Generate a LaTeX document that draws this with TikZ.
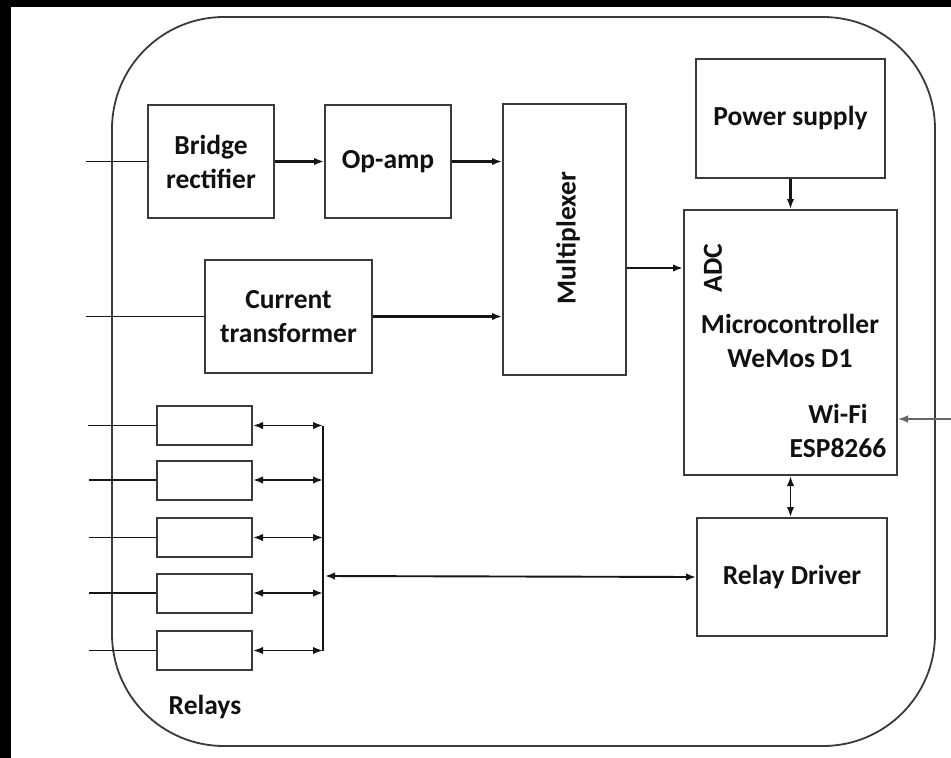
\documentclass[tikz,border=0pt]{standalone}
\usepackage{fontspec}
\setmainfont{Carlito}
\usetikzlibrary{arrows.meta}
\definecolor{boxgray}{HTML}{3A3A3A}
\definecolor{linecol}{HTML}{151515}
\definecolor{txt}{HTML}{111111}
\definecolor{wifigray}{HTML}{666666}
\begin{document}
\begin{tikzpicture}[x=1pt,y=-1pt,
  bigfont/.style={font=\fontsize{27.5}{34}\selectfont\bfseries},
  blk/.style={draw=boxgray, line width=2pt, inner sep=0pt, bigfont, align=center, text=txt},
  relaybox/.style={draw=boxgray, line width=2pt, inner sep=0pt, minimum width=95pt, minimum height=39pt},
  lbl/.style={inner sep=0pt, bigfont, text=txt},
  tip/.tip={Latex[length=10pt,width=7.5pt]},
  arr/.style={-tip, line width=2.2pt, draw=linecol},
  darr/.style={tip-tip, line width=1.9pt, draw=linecol},
  wire/.style={line width=1.8pt, draw=linecol}
]
% canvas
\fill[white] (0,0) rectangle (951,758);
\fill[black] (0,0) rectangle (951,7);
\fill[black] (0,0) rectangle (11,758);
\useasboundingbox (0,0) rectangle (951,758);

% outer enclosure
\draw[boxgray, line width=1.8pt, rounded corners=112pt] (112,17) rectangle (935,746);

% blocks
\node[blk, minimum width=126pt, minimum height=113pt] (br) at (211,161.5) {Bridge\\rectifier};
\node[blk, minimum width=126pt, minimum height=113pt] (op) at (388,161.5) {Op-amp};
\node[blk, minimum width=167pt, minimum height=113pt] (ct) at (288.5,316.5) {Current\\transformer};
\node[blk, minimum width=123pt, minimum height=271pt] (mux) at (564.5,239.5) {};
\node[lbl, rotate=90] (muxt) at (568,238) {Multiplexer};
\node[blk, minimum width=189pt, minimum height=119pt] (ps) at (790.5,118.5) {\raisebox{3pt}{Power supply}};
\node[blk, minimum width=213pt, minimum height=265pt] (mcu) at (790.5,342.5) {};
\node[lbl, rotate=90] (adc) at (713,268) {ADC};
\node[lbl, anchor=base] (mc1) at (790,333) {Microcontroller};
\node[lbl, anchor=base] (mc2) at (790,367) {WeMos D1};
\node[lbl, anchor=base] (wf1) at (838,423) {Wi-Fi};
\node[lbl, anchor=base] (wf2) at (838,457) {ESP8266};
\node[blk, minimum width=190pt, minimum height=118pt] (rd) at (792,577) {Relay Driver};

% relays
\node[relaybox] (r1) at (204.5,425.5) {};
\node[relaybox] (r2) at (204.5,480) {};
\node[relaybox] (r3) at (204.5,537.5) {};
\node[relaybox] (r4) at (204.5,593) {};
\node[relaybox] (r5) at (204.5,650.5) {};
\node[lbl, anchor=base] (rl) at (205,714) {Relays};

% free ends
\coordinate (in1) at (86,161.5);
\coordinate (in2) at (86,316.5);
\coordinate (ri1) at (88,425.5);
\coordinate (ri2) at (89,480);
\coordinate (ri3) at (89,537.5);
\coordinate (ri4) at (89,593);
\coordinate (ri5) at (89,650.5);
\coordinate (b1) at (323,425.5);
\coordinate (b2) at (323,480);
\coordinate (b3) at (323,537.5);
\coordinate (b4) at (323,593);
\coordinate (b5) at (323,650.5);
\coordinate (bm) at (325,576);
\coordinate (wifiin) at (951,419);

% connectors
\draw[wire] (in1) -- (br.west);
\draw[arr] (br.east) -- (op.west);
\draw[arr] (op.east) -- (mux.west |- op.east);
\draw[wire] (in2) -- (ct.west);
\draw[arr] (ct.east) -- (mux.west |- ct.east);
\draw[arr] (mux.east |- adc) -- (mcu.west |- adc);
\draw[arr] (ps.south) -- (ps.south |- mcu.north);
\draw[darr] (mcu.south -| ps.south) -- (ps.south |- rd.north);
\draw[-tip, line width=1.4pt, draw=wifigray] (wifiin) -- (mcu.east |- wifiin);

\foreach \i in {1,...,5} {
  \draw[wire] (ri\i) -- (r\i.west);
  \draw[darr] (r\i.east) -- (b\i);
}
\draw[wire] (b1) -- (b5);
\draw[darr] (bm) -- (rd.west);
\end{tikzpicture}
\end{document}
